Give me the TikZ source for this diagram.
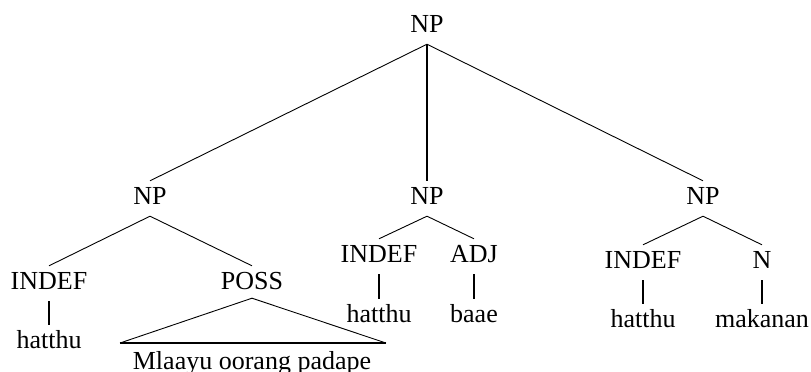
\documentclass[tikz,border=0pt]{standalone}
\usepackage{fontspec}
\setmainfont{Liberation Serif}
\begin{document}
\begin{tikzpicture}[x=1pt,y=-1pt,
  lab/.style={anchor=base,font=\fontsize{26}{30}\selectfont,text height=17pt,text depth=6pt,inner xsep=0pt,inner ysep=6pt},
  branch/.style={line width=0.9pt},
  unary/.style={line width=1.7pt},
  heavy/.style={line width=2.6pt}]
\useasboundingbox (0,0) rectangle (811,372);
% labels
\node[lab] (np0) at (427,32) {NP};
\node[lab] (np1) at (150,204) {NP};
\node[lab] (np2) at (427,204) {NP};
\node[lab] (np3) at (703,204) {NP};
\node[lab] (indefA) at (49,289) {INDEF};
\node[lab] (poss) at (252,289) {POSS};
\node[lab] (indefB) at (379,262) {INDEF};
\node[lab] (adj) at (474,262) {ADJ};
\node[lab] (indefC) at (643,268) {INDEF};
\node[lab] (n) at (762,268) {N};
\node[lab] (hatA) at (49,348) {hatthu};
\node[lab] (hatB) at (379,322) {hatthu};
\node[lab] (baae) at (474,322) {baae};
\node[lab] (hatC) at (643,327) {hatthu};
\node[lab] (mak) at (762,327) {makanan};
\node[lab] (mla) at (252,369) {Mlaayu oorang padape};
\coordinate (triL) at (120,343);
\coordinate (triR) at (386,343);
% connectors
\draw[branch] (np0.south) -- (np1.north);
\draw[heavy] (np0.south) -- (np2.north);
\draw[branch] (np0.south) -- (np3.north);
\draw[branch] (np1.south) -- (indefA.north);
\draw[branch] (np1.south) -- (poss.north);
\draw[branch] (np2.south) -- (indefB.north);
\draw[branch] (np2.south) -- (adj.north);
\draw[branch] (np3.south) -- (indefC.north);
\draw[branch] (np3.south) -- (n.north);
\draw[unary] (indefA.south) -- (hatA.north);
\draw[unary] (indefB.south) -- (hatB.north);
\draw[unary] (adj.south) -- (baae.north);
\draw[unary] (indefC.south) -- (hatC.north);
\draw[unary] (n.south) -- (mak.north);
\draw[branch] (triL) -- ([yshift=3pt]poss.south) -- (triR);
\draw[unary] (triL) -- (triR);
\end{tikzpicture}
\end{document}
